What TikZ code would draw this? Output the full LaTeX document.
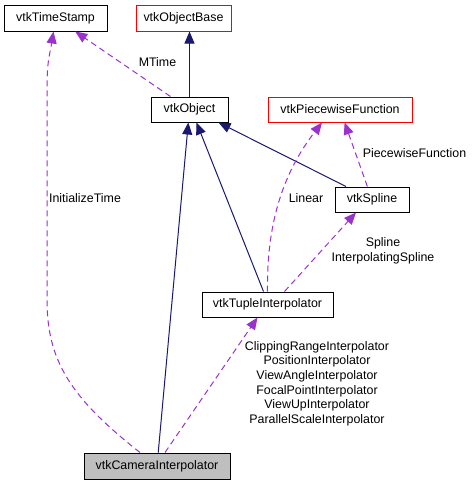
\documentclass[tikz,border=0pt]{standalone}
\usepackage{fontspec}
\setmainfont{Liberation Sans}
\usetikzlibrary{arrows.meta}
\definecolor{navyc}{HTML}{191970}
\definecolor{purp}{HTML}{9A32CD}
\definecolor{grayf}{HTML}{BFBFBF}
\newcommand{\lblfont}{\fontsize{12.4}{14.6}\selectfont}
\begin{document}
\begin{tikzpicture}[x=1pt,y=-1pt,
  box/.style={draw=black, line width=1pt, inner sep=0pt, minimum height=25pt, font=\lblfont},
  redbox/.style={box, draw=red},
  lbl/.style={inner sep=0pt, font=\lblfont, align=center},
  inh/.style={navyc, line width=1pt, -{Triangle[length=12pt,width=10pt]}},
  usage/.style={purp, line width=1pt, dash pattern=on 6pt off 4pt, -{Triangle[length=12pt,width=10pt]}}]
\useasboundingbox (0,0) rectangle (473,485);
\node[box, minimum width=103pt, minimum height=26pt] (ts) at (55.5,18) {vtkTimeStamp};
\node[redbox, minimum width=95pt, minimum height=26pt] (base) at (183.5,18) {vtkObjectBase};
\node[box, minimum width=77pt] (obj) at (189.5,109.5) {vtkObject};
\node[redbox, minimum width=144pt] (pf) at (340,109.5) {vtkPiecewiseFunction};
\node[box, minimum width=74pt] (spline) at (372,199.5) {vtkSpline};
\node[box, minimum width=131pt] (tuple) at (267.5,304.5) {vtkTupleInterpolator};
\node[box, fill=grayf, minimum width=146pt, minimum height=26pt] (cam) at (157,466) {vtkCameraInterpolator};

\coordinate (tsbend) at (47,300);
\coordinate (tstop) at (47,90);

\draw[inh] (obj.north) -- (obj.north |- base.south);
\draw[usage] (obj) -- (ts);
\draw[usage] ([xshift=-17]cam.north) .. controls +(-70,-55) and +(0,60) .. (tsbend) -- (tstop) .. controls +(0,-30) and +(-4,25) .. ([xshift=-2]ts.south);
\draw[inh] (cam) -- (obj);
\draw[usage] ([xshift=8]cam.north) -- ([xshift=-10]tuple.south);
\draw[inh] ([xshift=-4]tuple.north) -- ([xshift=7]obj.south);
\draw[inh] ([xshift=-26]spline.north) -- ([xshift=29]obj.south);
\draw[usage] (spline) -- (pf);
\draw[usage] (tuple.north) .. controls +(-1,-72) and +(-37,48) .. ([xshift=-18]pf.south);
\draw[usage] ([xshift=17]tuple.north) -- ([xshift=-16]spline.south);

\node[lbl] (lmtime) at (157.5,62) {MTime};
\node[lbl] (linit) at (85,198) {InitializeTime};
\node[lbl] (llinear) at (306,198) {Linear};
\node[lbl] (lpf) at (414.5,153) {PiecewiseFunction};
\node[lbl] (lspline) at (383,250.5) {Spline\\InterpolatingSpline};
\node[lbl] (ltuple) at (317,383.5) {ClippingRangeInterpolator\\PositionInterpolator\\ViewAngleInterpolator\\FocalPointInterpolator\\ViewUpInterpolator\\ParallelScaleInterpolator};
\end{tikzpicture}
\end{document}
